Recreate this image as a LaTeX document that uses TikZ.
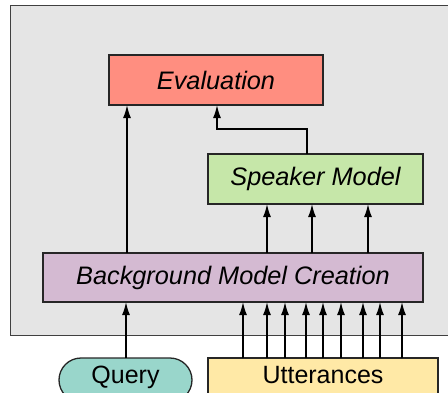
\documentclass[tikz,border=0pt]{standalone}
\usepackage{fontspec}
\setmainfont{Liberation Sans}
\usetikzlibrary{arrows.meta,shapes.misc}
\definecolor{evalred}{HTML}{FF8E80}
\definecolor{spkgreen}{HTML}{C6E7A9}
\definecolor{bgpurple}{HTML}{D4BAD2}
\definecolor{qteal}{HTML}{99D6CB}
\definecolor{uttyellow}{HTML}{FFE9A6}
\definecolor{framegray}{HTML}{E5E5E5}
\begin{document}
\begin{tikzpicture}[x=1pt,y=-1pt,inner sep=0pt,outer sep=0pt,line width=1.6pt,
font=\fontsize{25}{30}\selectfont,
procblock/.style={draw=black!85,rectangle,line width=1.3pt,font=\fontsize{25.3}{30}\selectfont\itshape},
inblock/.style={draw=black!85,line width=1.3pt,text height=18pt,text depth=12pt},
arr/.style={-{Latex[length=13pt,width=8pt]}}]
\useasboundingbox (0,0) rectangle (448,392);
\draw[fill=framegray,draw=black!75,line width=1pt] (10,5) rectangle (470,335);
\draw (216,80) node[procblock,fill=evalred,minimum width=214pt,minimum height=50pt] (eval) {Evaluation};
\draw (315.5,179) node[procblock,fill=spkgreen,minimum width=215pt,minimum height=50pt] (spk) {Speaker Model};
\draw (233,277.5) node[procblock,fill=bgpurple,minimum width=380pt,minimum height=49pt] (bg) {Background Model Creation};
\draw (125.5,380) node[inblock,rounded rectangle,fill=qteal,minimum width=133pt,minimum height=44pt] (query) {Query};
\draw (323,380) node[inblock,rectangle,fill=uttyellow,minimum width=230pt,minimum height=44pt] (utt) {Utterances};
\draw[arr] (bg.north -| 127,0) -- (eval.south -| 127,0);
\draw[arr] (spk.north -| 307,0) |- (217,129) -- (eval.south -| 217,0);
\foreach \xs in {267,312,368}
  \draw[arr] (bg.north -| \xs,0) -- (spk.south -| \xs,0);
\draw[arr] (query.north -| 126,0) -- (bg.south -| 126,0);
\foreach \xs in {243,267,285,306,323,341,363,380,402}
  \draw[arr] (utt.north -| \xs,0) -- (bg.south -| \xs,0);
\end{tikzpicture}
\end{document}
